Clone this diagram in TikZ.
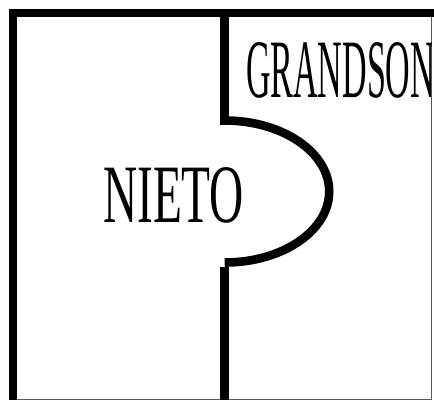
\documentclass[tikz,border=0pt]{standalone}
\usepackage{fontspec}
\setmainfont{Liberation Serif}
\tikzset{
  wall/.style={line width=8.6pt, line cap=butt},
  frame/.style={draw=black!65, line width=1pt},
  label/.style={inner sep=0pt, font=\fontsize{83}{83}\selectfont}
}
\begin{document}
\begin{tikzpicture}[x=1pt,y=-1pt]
\useasboundingbox (0,0) rectangle (434,400);
\fill[white] (0,0) rectangle (434,400);
% thin frame
\draw[frame] (9,9) rectangle (431,399);
% thick walls
\coordinate (tl) at (13,13);
\coordinate (tr) at (434,13);
\coordinate (bl) at (13,400);
\draw[wall] (tr) -- (tl) -- (bl);
\draw[wall] (224.7,9) -- (224.7,125);
\draw[wall] (224.7,120.5) arc[start angle=90, end angle=-90, x radius=104.5pt, y radius=71pt];
\draw[wall] (224.7,267) -- (224.7,400);
% labels
\begin{scope}
\clip (9,9) rectangle (431,399);
\node[label, anchor=base west, xscale=0.41] (grandson) at (246,97) {GRANDSON};
\end{scope}
\node[label, anchor=base west, xscale=0.57] (nieto) at (103,222) {NIETO};
\end{tikzpicture}
\end{document}
